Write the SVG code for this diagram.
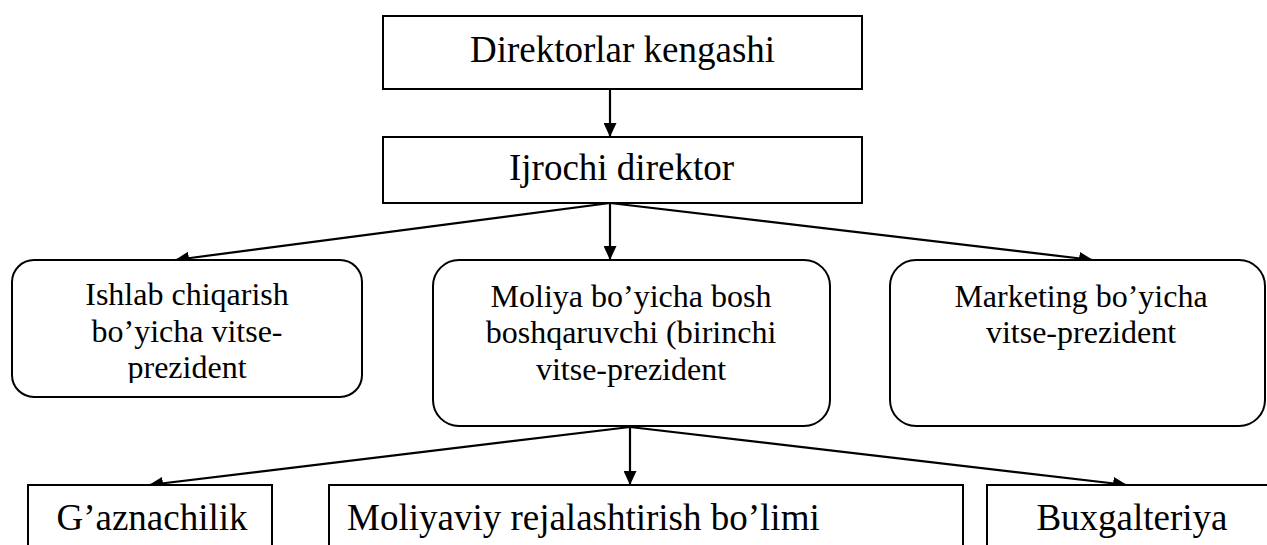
<svg xmlns="http://www.w3.org/2000/svg" width="1267" height="545" viewBox="0 0 1267 545">
<style>
.box{fill:#fff;stroke:#000;stroke-width:2}
.t{font-family:"Liberation Serif","Times New Roman",serif;fill:#000;text-anchor:middle}
.big{font-size:37px}
.mid{font-size:32px}
.con{stroke:#000;stroke-width:2.2;fill:none;marker-end:url(#ah)}
</style>
<defs>
<marker id="ah" viewBox="0 0 14 13" refX="14" refY="6.5" markerWidth="14" markerHeight="13" markerUnits="userSpaceOnUse" orient="auto">
<path d="M0,0 L14,6.5 L0,13 z" fill="#000"/>
</marker>
<clipPath id="clip1"><rect x="0" y="0" width="400" height="383"/></clipPath>
</defs>
<rect width="1267" height="545" fill="#fff"/>
<g id="connectors">
<line class="con" x1="610" y1="89" x2="610" y2="137"/>
<line class="con" x1="610" y1="203" x2="175" y2="260"/>
<line class="con" x1="610" y1="203" x2="610" y2="260"/>
<line class="con" x1="610" y1="203" x2="1093" y2="260"/>
<line class="con" x1="630" y1="427" x2="149" y2="485"/>
<line class="con" x1="630" y1="427" x2="630" y2="485"/>
<line class="con" x1="630" y1="427" x2="1127" y2="485"/>
</g>
<g id="n1">
<rect class="box" x="383" y="16" width="479" height="73"/>
<text class="t big" x="622.5" y="62">Direktorlar kengashi</text>
</g>
<g id="n2">
<rect class="box" x="383" y="137" width="479" height="66"/>
<text class="t big" x="621.5" y="180">Ijrochi direktor</text>
</g>
<g id="n3">
<rect class="box" x="12" y="260" width="350" height="137" rx="22" ry="22"/>
<text class="t mid" clip-path="url(#clip1)"><tspan x="187" y="305">Ishlab chiqarish</tspan><tspan x="187" y="342">bo’yicha vitse-</tspan><tspan x="187" y="378">prezident</tspan></text>
</g>
<g id="n4">
<rect class="box" x="433" y="260" width="397" height="166" rx="26" ry="26"/>
<text class="t mid"><tspan x="631" y="307">Moliya bo’yicha bosh</tspan><tspan x="631" y="343">boshqaruvchi (birinchi</tspan><tspan x="631" y="380">vitse-prezident</tspan></text>
</g>
<g id="n5">
<rect class="box" x="890" y="260" width="375" height="166" rx="26" ry="26"/>
<text class="t mid"><tspan x="1081" y="307">Marketing bo’yicha</tspan><tspan x="1081" y="343">vitse-prezident</tspan></text>
</g>
<g id="n6">
<rect class="box" x="28" y="485" width="244" height="80"/>
<text class="t big" x="152" y="530">G’aznachilik</text>
</g>
<g id="n7">
<rect class="box" x="329" y="485" width="634" height="80"/>
<text class="t big" x="347" y="530" style="text-anchor:start">Moliyaviy rejalashtirish bo’limi</text>
</g>
<g id="n8">
<rect class="box" x="987" y="485" width="290" height="80"/>
<text class="t big" x="1132" y="530">Buxgalteriya</text>
</g>
</svg>
